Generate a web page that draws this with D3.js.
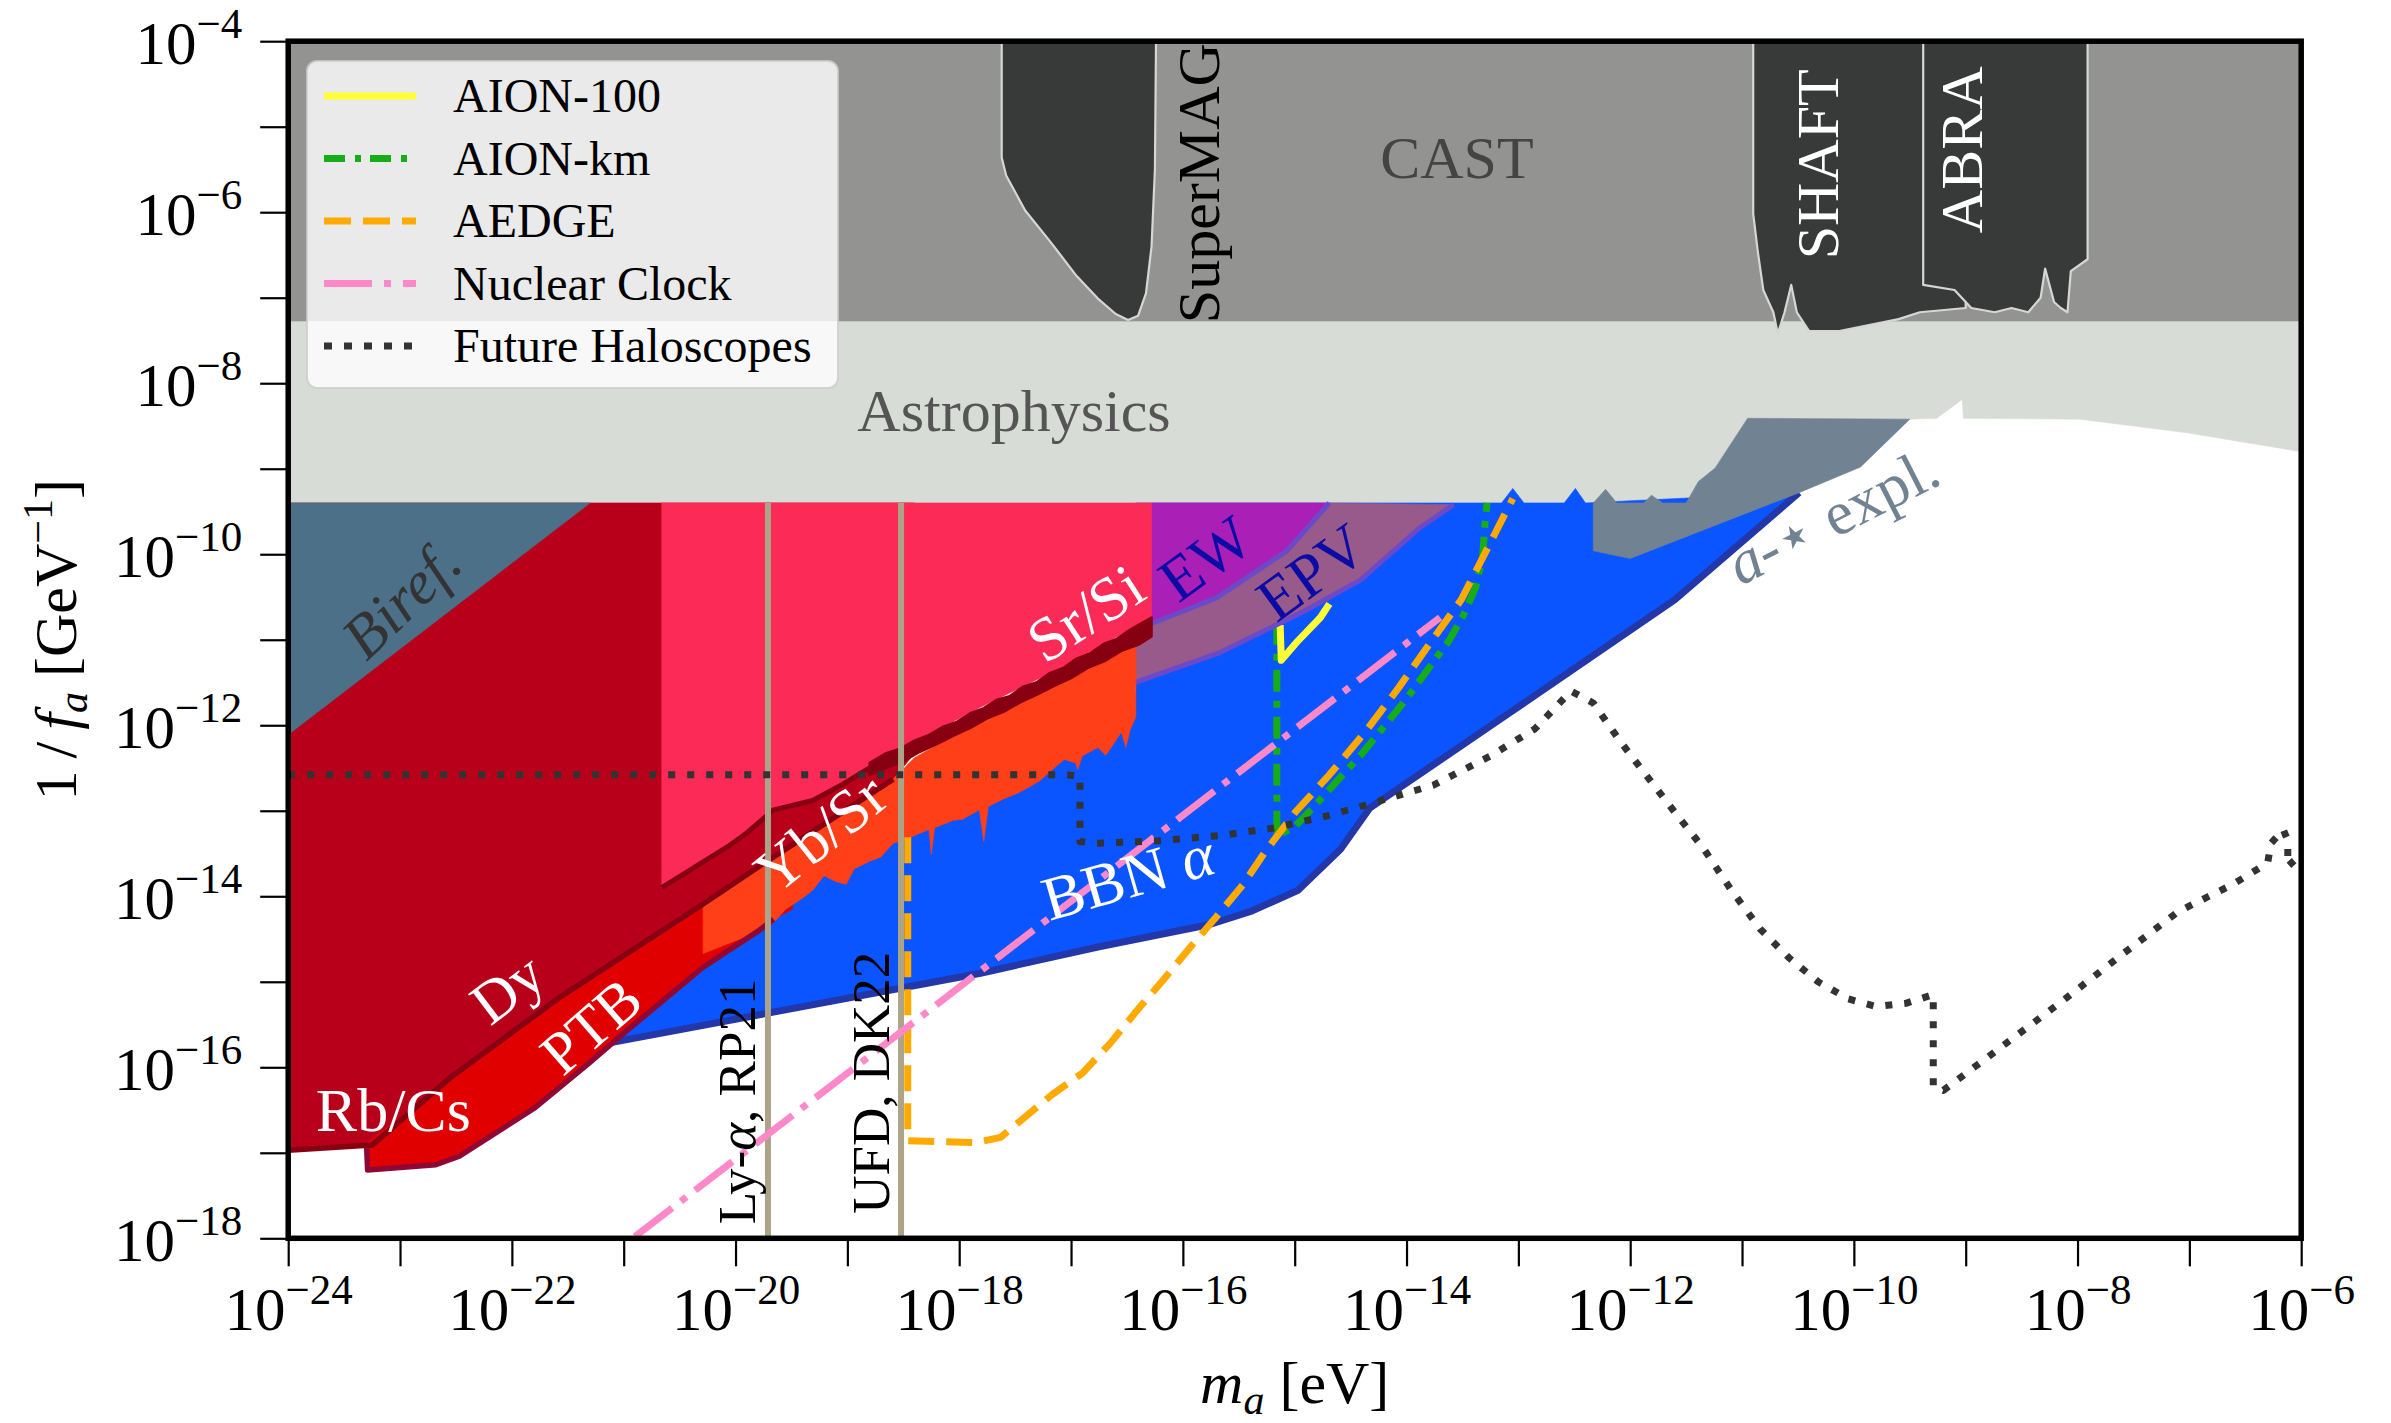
<!DOCTYPE html>
<html>
<head>
<meta charset="utf-8">
<title>Axion coupling constraints</title>
<script src="https://cdn.jsdelivr.net/npm/d3@7"></script>
<style>
  html, body { margin: 0; padding: 0; background: #fff; }
  svg { display: block; }
  text { font-family: "Liberation Serif", "Times New Roman", serif; }
</style>
</head>
<body>
<svg id="chart" width="2391" height="1423"></svg>
<script>
// Every point is [log10(m_a / eV), log10(1/f_a / GeV^-1)].

// ---- axis ticks ----
const massTickExps = [-24,-23,-22,-21,-20,-19,-18,-17,-16,-15,-14,-13,-12,-11,-10,-9,-8,-7,-6];
const massLabelExps = [-24,-22,-20,-18,-16,-14,-12,-10,-8,-6];
const couplingTickExps = [-18,-17,-16,-15,-14,-13,-12,-11,-10,-9,-8,-7,-6,-5,-4];
const couplingLabelExps = [-18,-16,-14,-12,-10,-8,-6,-4];

// ---- excluded regions ----
const castRegion = [[-24,-4],[-6,-4],[-6,-7.28],[-24,-7.28]];
const astrophysicsRegion = [[-24,-7.28],[-6,-7.28],[-6,-8.80],[-7.02,-8.58],[-7.98,-8.42],[-9.02,-8.41],
  [-9.03,-8.19],[-9.26,-8.41],[-9.50,-8.42],[-10.95,-8.41],[-11.24,-8.99],[-11.39,-9.15],[-11.50,-9.40],[-24,-9.40]];
const superMAGRegion = [[-17.62,-4],[-17.62,-5.36],[-17.58,-5.57],[-17.41,-5.98],[-17.17,-6.37],[-16.96,-6.73],
  [-16.76,-7.01],[-16.60,-7.19],[-16.49,-7.26],[-16.40,-7.21],[-16.33,-6.95],[-16.28,-6.40],[-16.25,-5.50],[-16.24,-4]];
const shaftRegion = [[-10.90,-4],[-10.90,-6.02],[-10.86,-6.45],[-10.81,-6.91],[-10.72,-7.17],[-10.68,-7.42],
  [-10.62,-7.17],[-10.56,-6.85],[-10.51,-7.17],[-10.40,-7.39],[-10.13,-7.39],[-9.60,-7.25],[-9.41,-7.17],[-9.00,-7.12],[-9.00,-4]];
const abraRegion = [[-9.38,-4],[-9.38,-6.85],[-9.10,-6.91],[-8.95,-7.12],[-8.74,-7.17],[-8.59,-7.12],[-8.44,-7.17],
  [-8.33,-7.00],[-8.29,-6.66],[-8.21,-7.05],[-8.15,-7.12],[-8.09,-7.17],[-8.06,-6.69],[-7.91,-6.55],[-7.91,-4]];
const birefRegion = [[-24,-9.40],[-21.30,-9.40],[-24,-12.11]];
const dyRegion = [[-24,-9.40],[-18.40,-9.40],[-18.40,-12.33],[-18.59,-12.63],[-19.79,-13.65],[-20.29,-14.09],
  [-21.57,-15.18],[-22.54,-16.11],[-23.25,-16.91],[-24,-16.97]];
const dyEdge = [[-24,-16.97],[-23.25,-16.91],[-22.54,-16.11],[-21.57,-15.18],[-20.29,-14.09],[-19.79,-13.65],[-18.59,-12.63]];
const srSiRegion = [[-20.66,-9.40],[-16.28,-9.40],[-16.28,-10.74],[-17.03,-11.29],[-17.81,-11.79],[-18.59,-12.33],
  [-19.04,-12.69],[-19.31,-12.88],[-19.66,-12.99],[-19.90,-13.26],[-20.07,-13.42],[-20.66,-13.90]];
const srSiEdge = [[-20.66,-13.90],[-20.07,-13.42],[-19.90,-13.26],[-19.66,-12.99],[-19.31,-12.88],[-19.04,-12.69],[-18.59,-12.33]];
// Sr/Si limit band: upper (ragged) edge followed by lower edge, right to left
const srSiBand = [[-18.80,-12.44],[-18.66,-12.33],[-18.52,-12.27],[-18.40,-12.18],[-18.28,-12.12],[-18.15,-12.02],
  [-18.02,-11.96],[-17.90,-11.86],[-17.78,-11.80],[-17.66,-11.70],[-17.55,-11.66],[-17.43,-11.55],[-17.31,-11.50],
  [-17.19,-11.39],[-17.07,-11.33],[-16.95,-11.22],[-16.83,-11.16],[-16.71,-11.05],[-16.59,-10.99],[-16.47,-10.88],
  [-16.36,-10.80],[-16.28,-10.74],
  [-16.28,-10.96],[-16.40,-11.06],[-16.55,-11.13],[-16.70,-11.25],[-16.85,-11.33],[-17.00,-11.45],[-17.15,-11.54],
  [-17.30,-11.64],[-17.45,-11.73],[-17.60,-11.84],[-17.75,-11.92],[-17.90,-12.03],[-18.05,-12.12],[-18.20,-12.22],
  [-18.35,-12.31],[-18.50,-12.42],[-18.65,-12.50],[-18.80,-12.58]];
const ptbRegion = [[-23.30,-16.89],[-22.54,-16.11],[-21.57,-15.18],[-20.29,-14.09],[-19.79,-13.65],[-19.49,-13.42],
  [-19.49,-14.15],[-19.66,-14.27],[-19.79,-14.40],[-20.29,-14.83],[-20.97,-15.57],[-21.31,-15.95],[-21.79,-16.47],
  [-22.47,-17.04],[-22.68,-17.14],[-23.29,-17.20]];
const ptbEdge = [[-23.30,-16.89],[-23.29,-17.20],[-22.68,-17.14],[-22.47,-17.04],[-21.79,-16.47],[-21.31,-15.95],
  [-20.97,-15.57],[-20.29,-14.83],[-19.79,-14.40],[-19.66,-14.27]];
const ybSrRegion = [[-20.29,-14.09],[-19.79,-13.65],[-18.59,-12.63],[-18.40,-12.38],[-17.81,-11.94],[-17.03,-11.44],
  [-16.42,-10.99],[-16.42,-11.90],[-16.47,-12.05],[-16.51,-12.26],[-16.55,-12.08],[-16.62,-12.22],[-16.69,-12.35],
  [-16.76,-12.26],[-16.90,-12.36],[-16.94,-12.52],[-16.96,-12.44],[-17.06,-12.40],[-17.17,-12.52],[-17.28,-12.65],
  [-17.37,-12.72],[-17.47,-12.79],[-17.60,-12.86],[-17.74,-12.95],[-17.78,-13.36],[-17.82,-12.99],[-17.97,-13.10],
  [-18.05,-13.11],[-18.22,-13.20],[-18.25,-13.51],[-18.27,-13.22],[-18.40,-13.29],[-18.46,-13.33],[-18.59,-13.38],
  [-18.70,-13.54],[-18.80,-13.59],[-18.94,-13.68],[-19.01,-13.86],[-19.10,-13.83],[-19.21,-13.76],[-19.31,-13.93],
  [-19.42,-14.04],[-19.55,-14.15],[-19.66,-14.31],[-19.79,-14.40],[-19.96,-14.50],[-20.29,-14.67]];
const bbnRegion = [[-21.40,-15.68],[-19.66,-14.04],[-18.53,-13.15],[-16.42,-11.63],[-16.42,-9.40],[-13.15,-9.40],
  [-13.05,-9.23],[-12.95,-9.40],[-12.59,-9.40],[-12.49,-9.23],[-12.40,-9.40],[-10.49,-9.28],[-11.60,-10.53],
  [-13.05,-11.83],[-14.33,-12.97],[-14.59,-13.45],[-14.97,-13.93],[-15.38,-14.17],[-15.76,-14.33],[-16.75,-14.59],
  [-17.81,-14.90],[-21.27,-15.75]];
const bbnEdge = [[-21.27,-15.75],[-17.81,-14.90],[-16.75,-14.59],[-15.76,-14.33],[-15.38,-14.17],[-14.97,-13.93],
  [-14.59,-13.45],[-14.33,-12.97],[-13.05,-11.83],[-11.60,-10.53],[-10.49,-9.28]];
const ewRegion = [[-16.28,-9.40],[-14.69,-9.40],[-15.07,-9.96],[-15.70,-10.51],[-16.28,-10.81]];
const ewEdge = [[-14.69,-9.40],[-15.07,-9.96],[-15.70,-10.51],[-16.28,-10.81]];
const epvRegion = [[-16.49,-10.87],[-16.28,-10.81],[-15.70,-10.51],[-15.07,-9.96],[-14.69,-9.40],[-13.58,-9.42],
  [-13.88,-9.69],[-14.41,-10.30],[-14.92,-10.67],[-15.67,-11.15],[-16.45,-11.51],[-16.49,-11.54]];
const epvEdge = [[-13.58,-9.42],[-13.88,-9.69],[-14.41,-10.30],[-14.92,-10.67],[-15.67,-11.15],[-16.45,-11.51],[-16.49,-11.54]];
const starRegion = [[-12.33,-9.96],[-12.33,-9.40],[-12.22,-9.24],[-12.12,-9.40],[-11.88,-9.40],[-11.81,-9.31],
  [-11.71,-9.40],[-11.50,-9.40],[-11.39,-9.15],[-11.24,-8.99],[-10.95,-8.41],[-9.50,-8.42],[-9.94,-8.98],
  [-10.49,-9.28],[-12.00,-10.05]];

// ---- cosmological bounds on the mass (vertical lines) ----
const lymanAlphaMass = -19.71;
const ufdMass = -18.52;
const verticalSpan = [-9.40, -18];

// ---- projected sensitivities ----
const aion100 = [[-15.13,-10.83],[-15.12,-11.24],[-14.99,-11.04],[-14.77,-10.74],[-14.69,-10.58]];
const aionKm = [[-15.16,-10.80],[-15.16,-13.29],[-15.01,-13.20],[-14.82,-12.94],[-14.62,-12.65],[-14.41,-12.35],
  [-14.21,-12.03],[-14.00,-11.69],[-13.80,-11.33],[-13.62,-11.01],[-13.49,-10.71],[-13.38,-10.38],[-13.32,-10.03],
  [-13.30,-9.67],[-13.28,-9.40]];
const aedge = [[-18.46,-13.31],[-18.46,-16.86],[-17.85,-16.88],[-17.63,-16.82],[-17.40,-16.57],[-17.17,-16.32],
  [-16.90,-16.07],[-16.65,-15.72],[-16.40,-15.32],[-16.17,-14.97],[-15.93,-14.59],[-15.70,-14.24],[-15.46,-13.86],
  [-15.26,-13.47],[-14.99,-13.01],[-14.69,-12.58],[-14.37,-12.08],[-14.07,-11.56],[-13.79,-11.04],[-13.51,-10.53],
  [-13.35,-10.12],[-13.21,-9.76],[-13.05,-9.35]];
const nuclearClock = [[-20.90,-17.98],[-13.70,-10.74]];
const futureHaloscopes = [[-24,-12.58],[-17.03,-12.58],[-16.92,-12.60],[-16.92,-13.36],[-16.77,-13.38],[-16.21,-13.35],
  [-15.67,-13.29],[-15.18,-13.20],[-14.71,-13.06],[-14.33,-12.92],[-13.76,-12.70],[-13.25,-12.36],[-12.85,-12.04],
  [-12.53,-11.60],[-12.33,-11.74],[-12.10,-12.17],[-11.86,-12.58],[-11.60,-13.02],[-11.35,-13.43],[-11.10,-13.92],
  [-10.84,-14.38],[-10.58,-14.72],[-10.32,-15.00],[-10.05,-15.20],[-9.80,-15.29],[-9.53,-15.25],[-9.29,-15.15],
  [-9.29,-16.23],[-9.20,-16.27],[-8.73,-15.81],[-8.13,-15.22],[-7.62,-14.70],[-7.10,-14.18],[-6.61,-13.86],
  [-6.30,-13.61],[-6.27,-13.38],[-6.16,-13.22],[-6.12,-13.35],[-6.12,-13.65],[-6.00,-13.51]];

const seriesNames = ["AION-100", "AION-km", "AEDGE", "Nuclear Clock", "Future Haloscopes"];

// ---- layout ----
const plot = { left: 288.2, right: 2301.2, top: 41.2, bottom: 1238.3 };
const svg = d3.select("#chart");
svg.append("rect").attr("width", 2391).attr("height", 1423).attr("fill", "#fff");

const x = d3.scaleLog().domain([1e-24, 1e-6]).range([plot.left, plot.right]);
const y = d3.scaleLog().domain([1e-18, 1e-4]).range([plot.bottom, plot.top]);
const px = d => x(Math.pow(10, d[0]));
const py = d => y(Math.pow(10, d[1]));
const path = d3.line().x(px).y(py);

svg.append("defs").append("clipPath").attr("id", "plotClip")
  .append("rect").attr("x", plot.left).attr("y", plot.top)
  .attr("width", plot.right - plot.left).attr("height", plot.bottom - plot.top);

const g = svg.append("g").attr("clip-path", "url(#plotClip)");

function region(pts, fill, stroke, sw) {
  const p = g.append("path").attr("d", path(pts) + "Z").attr("fill", fill);
  if (stroke) p.attr("stroke", stroke).attr("stroke-width", sw).attr("stroke-linejoin", "round");
  else p.attr("stroke", fill).attr("stroke-width", 0.6);
  return p;
}
function curve(pts, color, width, dash, cap) {
  const p = g.append("path").attr("d", path(pts)).attr("fill", "none")
    .attr("stroke", color).attr("stroke-width", width).attr("stroke-linejoin", "round")
    .attr("stroke-linecap", cap || "butt");
  if (dash) p.attr("stroke-dasharray", dash);
  return p;
}

// laboratory and astrophysical bounds at large coupling
region(castRegion, "#939491");
region(astrophysicsRegion, "#d8dcd6");
region(superMAGRegion, "#383a39", "#d6d6d6", 2.2);
region(shaftRegion, "#383a39", "#d6d6d6", 2.2);
region(abraRegion, "#383a39", "#d6d6d6", 2.2);

// BBN bound on the fine-structure constant
region(bbnRegion, "#0a55ff");
curve(bbnEdge, "#2337a8", 7);

// AION projections sit beneath the EPV / EW regions
curve(aionKm, "#17ad17", 7, "22 9 7 9");
curve(aion100, "#ffff38", 7);

region(epvRegion, "#985a8a");
curve(epvEdge, "#6c49c9", 5);
region(ewRegion, "#aa1fb6");
curve(ewEdge, "#6c49c9", 5);

// atomic-clock bounds
region(dyRegion, "#b9001b");
region(birefRegion, "#4b7088");
region(srSiRegion, "#fc2a57");
region(ptbRegion, "#e10000");
region(ybSrRegion, "#ff3f17");
curve(ptbEdge, "#8e0833", 5.5);
curve(srSiEdge, "#870012", 5);
curve(dyEdge, "#870012", 5.5);
region(srSiBand, "#870012", "#870012", 2.5);

// star-cooling bound
region(starRegion, "#718393");

// Lyman-alpha and ultra-faint-dwarf mass bounds
[lymanAlphaMass, ufdMass].forEach(m => curve([[m, verticalSpan[0]], [m, verticalSpan[1]]], "#aca489", 6));

// projections drawn on top
curve(aedge, "#ffaa00", 7, "26 12");
curve(nuclearClock, "#ff88c8", 7, "47 11 7 11");
curve(futureHaloscopes, "#333333", 7, "7 12");

// ---- region labels ----
const annotations = [
  { t: [["CAST"]], at: [-13.55, -5.37], rot: 0, color: "#444" },
  { t: [["Astrophysics"]], at: [-17.51, -8.33], rot: 0, color: "#555" },
  { t: [["SuperMAG"]], at: [-15.86, -5.66], rot: -90, color: "#000" },
  { t: [["SHAFT"]], at: [-10.32, -5.44], rot: -90, color: "#fff" },
  { t: [["ABRA"]], at: [-9.03, -5.27], rot: -90, color: "#fff" },
  { t: [["Biref.", "italic"]], at: [-22.99, -10.53], rot: -44, color: "#333", size: 62 },
  { t: [["Dy"]], at: [-22.04, -15.08], rot: -37, color: "#fff" },
  { t: [["PTB"]], at: [-21.29, -15.52], rot: -41, color: "#fff" },
  { t: [["Rb/Cs"]], at: [-23.06, -16.50], rot: 0, color: "#fff", size: 62 },
  { t: [["Yb/Sr"]], at: [-19.24, -13.26], rot: -39, color: "#fff", size: 62 },
  { t: [["Sr/Si"]], at: [-16.87, -10.69], rot: -33, color: "#fff", size: 62 },
  { t: [["EW"]], at: [-15.80, -10.05], rot: -36, color: "#0b0ba6", size: 62 },
  { t: [["EPV"]], at: [-14.85, -10.21], rot: -36, color: "#0b0ba6", size: 62 },
  { t: [["BBN "], ["α", "italic"]], at: [-16.49, -13.77], rot: -16, color: "#fff", size: 62 },
  { t: [["a", "italic"], ["-⋆ expl."]], at: [-10.19, -9.55], rot: -27, color: "#718393", size: 62 },
  { t: [["Ly-"], ["α", "italic"], [", RP21"]], at: [-19.99, -16.40], rot: -90, color: "#000", size: 53 },
  { t: [["UFD, DK22"]], at: [-18.79, -16.18], rot: -90, color: "#000", size: 53 }
];
const labels = svg.append("g");
annotations.forEach(a => {
  const t = labels.append("text")
    .attr("transform", `translate(${px(a.at)},${py(a.at)}) rotate(${a.rot})`)
    .attr("text-anchor", "middle").attr("dominant-baseline", "central")
    .attr("font-size", a.size || 60).attr("fill", a.color);
  a.t.forEach(([s, style]) => {
    const sp = t.append("tspan").text(s);
    if (style) sp.attr("font-style", style);
  });
});

// ---- legend ----
const legendStyles = [
  { color: "#ffff38", dash: null },
  { color: "#17ad17", dash: "21 10 6 9" },
  { color: "#ffaa00", dash: "27 12" },
  { color: "#ff88c8", dash: "48 12 7 12" },
  { color: "#333333", dash: "8 12" }
];
const lg = svg.append("g");
lg.append("rect").attr("x", 307).attr("y", 61).attr("width", 531).attr("height", 327)
  .attr("rx", 10).attr("fill", "#fff").attr("fill-opacity", 0.8)
  .attr("stroke", "#cccccc").attr("stroke-opacity", 0.8).attr("stroke-width", 2);
seriesNames.forEach((name, i) => {
  const yy = 96 + i * 62.5;
  const ln = lg.append("line").attr("x1", 324).attr("x2", 416).attr("y1", yy).attr("y2", yy)
    .attr("stroke", legendStyles[i].color).attr("stroke-width", 7);
  if (legendStyles[i].dash) ln.attr("stroke-dasharray", legendStyles[i].dash);
  lg.append("text").attr("x", 453).attr("y", yy + 16).attr("font-size", 48).attr("fill", "#000").text(name);
});

// ---- axes ----
const gx = svg.append("g").attr("transform", `translate(0,${plot.bottom})`)
  .call(d3.axisBottom(x).tickValues(massTickExps.map(e => Math.pow(10, e))).tickSize(28).tickFormat(""));
gx.attr("font-family", null).attr("font-size", null);
gx.select(".domain").remove();
gx.selectAll(".tick line").attr("stroke", "#000").attr("stroke-width", 2.2);
gx.selectAll(".tick").each(function (d) {
  const e = Math.round(Math.log10(d));
  if (!massLabelExps.includes(e)) return;
  const t = d3.select(this).append("text").attr("y", 92).attr("text-anchor", "middle")
    .attr("fill", "#000").attr("font-size", 61);
  t.append("tspan").text("10");
  t.append("tspan").attr("dy", -26).attr("font-size", 43).text("\u2212" + (-e));
});

const gy = svg.append("g").attr("transform", `translate(${plot.left},0)`)
  .call(d3.axisLeft(y).tickValues(couplingTickExps.map(e => Math.pow(10, e))).tickSize(28).tickFormat(""));
gy.attr("font-family", null).attr("font-size", null);
gy.select(".domain").remove();
gy.selectAll(".tick line").attr("stroke", "#000").attr("stroke-width", 2.2);
gy.selectAll(".tick").each(function (d) {
  const e = Math.round(Math.log10(d));
  if (!couplingLabelExps.includes(e)) return;
  const t = d3.select(this).append("text").attr("x", -46).attr("y", 22).attr("text-anchor", "end")
    .attr("fill", "#000").attr("font-size", 61);
  t.append("tspan").text("10");
  t.append("tspan").attr("dy", -26).attr("font-size", 43).text("\u2212" + (-e));
});

// frame
svg.append("rect").attr("x", plot.left).attr("y", plot.top)
  .attr("width", plot.right - plot.left).attr("height", plot.bottom - plot.top)
  .attr("fill", "none").attr("stroke", "#000").attr("stroke-width", 5.5);

// axis titles
const xt = svg.append("text").attr("x", (plot.left + plot.right) / 2).attr("y", 1403)
  .attr("text-anchor", "middle").attr("font-size", 60).attr("fill", "#000");
xt.append("tspan").attr("font-style", "italic").text("m");
xt.append("tspan").attr("font-style", "italic").attr("font-size", 42).attr("dy", 11).text("a");
xt.append("tspan").attr("dy", -11).text(" [eV]");

const yt = svg.append("text")
  .attr("transform", `translate(76,${(plot.top + plot.bottom) / 2}) rotate(-90)`)
  .attr("text-anchor", "middle").attr("font-size", 60).attr("fill", "#000");
yt.append("tspan").text("1\u2009/\u2009");
yt.append("tspan").attr("font-style", "italic").text("f");
yt.append("tspan").attr("font-style", "italic").attr("font-size", 42).attr("dy", 11).text("a");
yt.append("tspan").attr("dy", -11).text("  [GeV");
yt.append("tspan").attr("font-size", 42).attr("dy", -24).text("\u22121");
yt.append("tspan").attr("dy", 24).text("]");
</script>
</body>
</html>
